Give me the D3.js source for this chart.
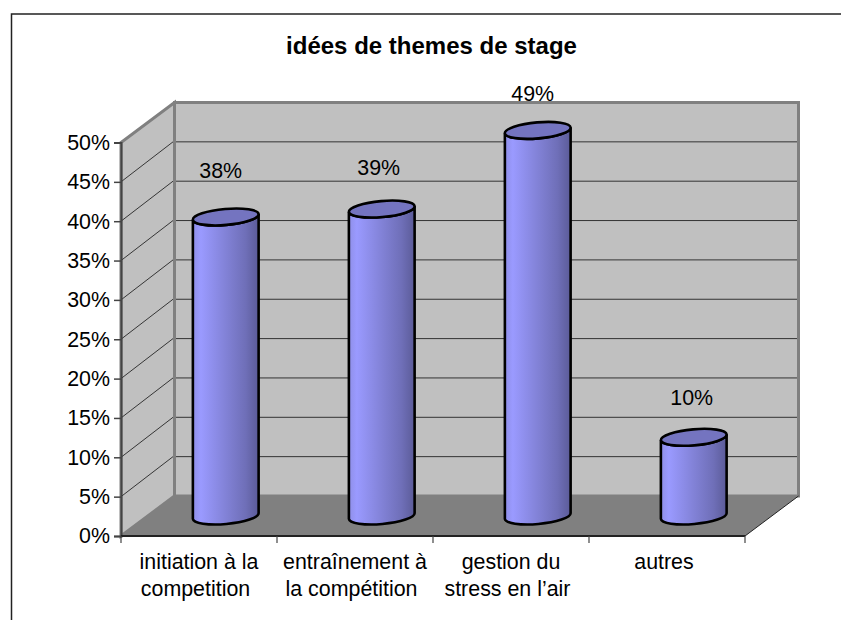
<!DOCTYPE html>
<html>
<head>
<meta charset="utf-8">
<script src="https://d3js.org/d3.v7.min.js"></script>
<style>
  html, body { margin: 0; padding: 0; background: #fff; overflow: hidden; }
  text { font-family: "Liberation Sans", Arial, sans-serif; fill: #000; }
</style>
</head>
<body>
<div id="chart"></div>
<script>
const chartTitle = "idées de themes de stage";
const categories = [
    ["initiation à la", "competition"],
    ["entraînement à", "la compétition"],
    ["gestion du", "stress en l’air"],
    ["autres"]
];
const values = [38, 39, 49, 10];
const valueLabels = ["38%", "39%", "49%", "10%"];
const yTicks = [0, 5, 10, 15, 20, 25, 30, 35, 40, 45, 50];

const fullWidth = 841;
const fullHeight = 620;

// Lay-out of the fake 3D box
const front = { left: 121, right: 745, bottom: 536, top: 142.5 };
const depth = { x: 53.5, y: -40 };
const labelLift = [46, 41, 36, 39];
const labelShift = [-5, -3, -5, -2];
const fontSize = "21.4px";

const svg = d3.select("#chart")
    .append("svg")
    .attr("width", fullWidth)
    .attr("height", fullHeight);

const defs = svg.append("defs");
const grad = defs.append("linearGradient").attr("id", "cyl");
grad.selectAll("stop")
    .data([[0, "#8f8fe8"], [0.12, "#9a9aff"], [0.45, "#8585dc"], [0.8, "#6f6fb8"], [1, "#5b5b98"]])
    .join("stop")
    .attr("offset", d => d[0])
    .attr("stop-color", d => d[1]);

// Chart frame runs off the picture on the right and at the bottom
svg.append("path")
    .attr("d", `M11.5,620V14H841`)
    .attr("fill", "none")
    .attr("stroke", "#222")
    .attr("stroke-width", 1.5);

svg.append("text")
    .attr("x", 431.5)
    .attr("y", 54)
    .attr("text-anchor", "middle")
    .style("font-size", "24px")
    .style("font-weight", "700")
    .text(chartTitle);

const x = d3.scaleBand()
    .domain(d3.range(categories.length))
    .range([front.left, front.right]);
const y = d3.scaleLinear()
    .domain([0, 50])
    .range([front.bottom, front.top]);

const wallColor = "#c0c0c0";
const floorColor = "#808080";

// Back wall, side wall and floor
const box = svg.append("g");
box.append("polygon")
    .attr("points", [
        [front.left + depth.x, y(50) + depth.y],
        [front.right + depth.x, y(50) + depth.y],
        [front.right + depth.x, y(0) + depth.y],
        [front.left + depth.x, y(0) + depth.y]
    ].join(" "))
    .attr("fill", wallColor)
    .attr("stroke", floorColor)
    .attr("stroke-width", 3);
box.append("polygon")
    .attr("points", [
        [front.left, y(0)],
        [front.left, y(50)],
        [front.left + depth.x, y(50) + depth.y],
        [front.left + depth.x, y(0) + depth.y]
    ].join(" "))
    .attr("fill", wallColor)
    .attr("stroke", floorColor)
    .attr("stroke-width", 3);

// Gridlines on both walls
const gridTicks = yTicks.filter(d => d > 0 && d < 50);
box.selectAll(".grid-back")
    .data(gridTicks)
    .join("line")
    .attr("class", "grid-back")
    .attr("x1", front.left + depth.x + 1.5)
    .attr("x2", front.right + depth.x - 1.5)
    .attr("y1", d => y(d) + depth.y)
    .attr("y2", d => y(d) + depth.y)
    .attr("stroke", "#333")
    .attr("stroke-width", 1);
box.selectAll(".grid-side")
    .data(gridTicks)
    .join("line")
    .attr("class", "grid-side")
    .attr("x1", front.left)
    .attr("x2", front.left + depth.x - 1.5)
    .attr("y1", d => y(d))
    .attr("y2", d => y(d) + depth.y)
    .attr("stroke", "#111")
    .attr("stroke-width", 0.8);

box.append("polygon")
    .attr("points", [
        [front.left, y(0)],
        [front.right, y(0)],
        [front.right + depth.x, y(0) + depth.y],
        [front.left + depth.x, y(0) + depth.y]
    ].join(" "))
    .attr("fill", floorColor);

// Cylinders
const cylRx = 33;
const cylRy = 8;
const tilt = -5;
const dxEdge = cylRx * Math.cos(tilt * Math.PI / 180);
const dyEdge = cylRx * Math.sin(tilt * Math.PI / 180);

const cols = svg.append("g").selectAll("g")
    .data(values)
    .join("g");

const cx = (d, i) => x(i) + x.bandwidth() / 2 + depth.x / 2;
const cyOf = v => y(v) + depth.y / 2;

cols.append("path")
    .attr("d", (d, i) => {
        const c = cx(d, i), t = cyOf(d), b = cyOf(0);
        return `M${c - dxEdge},${t - dyEdge}` +
            `L${c - dxEdge},${b - dyEdge}` +
            `A${cylRx},${cylRy} ${tilt} 0 0 ${c + dxEdge},${b + dyEdge}` +
            `L${c + dxEdge},${t + dyEdge}` +
            `A${cylRx},${cylRy} ${tilt} 0 1 ${c - dxEdge},${t - dyEdge}Z`;
    })
    .attr("fill", "url(#cyl)")
    .attr("stroke", "#000")
    .attr("stroke-width", 2.6);

cols.append("ellipse")
    .attr("rx", cylRx)
    .attr("ry", cylRy)
    .attr("transform", (d, i) => `translate(${cx(d, i)},${cyOf(d)}) rotate(${tilt})`)
    .attr("fill", "#7474c0")
    .attr("stroke", "#000")
    .attr("stroke-width", 2.6);

// Value labels
svg.append("g").selectAll("text")
    .data(values)
    .join("text")
    .attr("x", (d, i) => cx(d, i) + labelShift[i])
    .attr("y", (d, i) => cyOf(d) - labelLift[i] + 7)
    .attr("text-anchor", "middle")
    .style("font-size", fontSize)
    .text((d, i) => valueLabels[i]);

// Axes
const axisColor = "#444";
const yAxis = svg.append("g")
    .attr("transform", `translate(${front.left},0)`)
    .call(d3.axisLeft(y).tickValues(yTicks).tickFormat(d => d + "%").tickSize(7).tickPadding(4));
yAxis.select(".domain").attr("stroke", axisColor).attr("stroke-width", 2);
yAxis.selectAll(".tick line").attr("stroke", axisColor).attr("stroke-width", 1.5);
yAxis.selectAll("text").style("font-size", fontSize).style("fill", "#000");

const xAxis = svg.append("g")
    .attr("transform", `translate(0,${front.bottom})`);
xAxis.append("line")
    .attr("x1", front.left)
    .attr("x2", front.right)
    .attr("stroke", "#222")
    .attr("stroke-width", 2);
xAxis.selectAll(".xtick")
    .data(d3.range(categories.length + 1))
    .join("line")
    .attr("class", "xtick")
    .attr("x1", i => i < categories.length ? x(i) : front.right)
    .attr("x2", i => i < categories.length ? x(i) : front.right)
    .attr("y1", 0)
    .attr("y2", 7)
    .attr("stroke", axisColor)
    .attr("stroke-width", 1.2);

// Floor edge up to the back right corner
svg.append("line")
    .attr("x1", front.right)
    .attr("y1", front.bottom)
    .attr("x2", front.right + depth.x)
    .attr("y2", y(0) + depth.y)
    .attr("stroke", "#222")
    .attr("stroke-width", 1);

// The second line sits a little left of the first in the source
const lineShift = [0, -3.5];
const catLabels = svg.append("g").selectAll("text")
    .data(categories)
    .join("text")
    .attr("text-anchor", "middle")
    .style("font-size", fontSize);
catLabels.selectAll("tspan")
    .data(d => d)
    .join("tspan")
    .text(d => d);
catLabels.each(function(d, i) {
    d3.select(this).selectAll("tspan")
        .attr("x", (t, j) => x(i) + x.bandwidth() / 2 + (d.length === 1 ? -3 : lineShift[j]))
        .attr("y", (t, j) => 568.5 + j * 27.5);
});
</script>
</body>
</html>
